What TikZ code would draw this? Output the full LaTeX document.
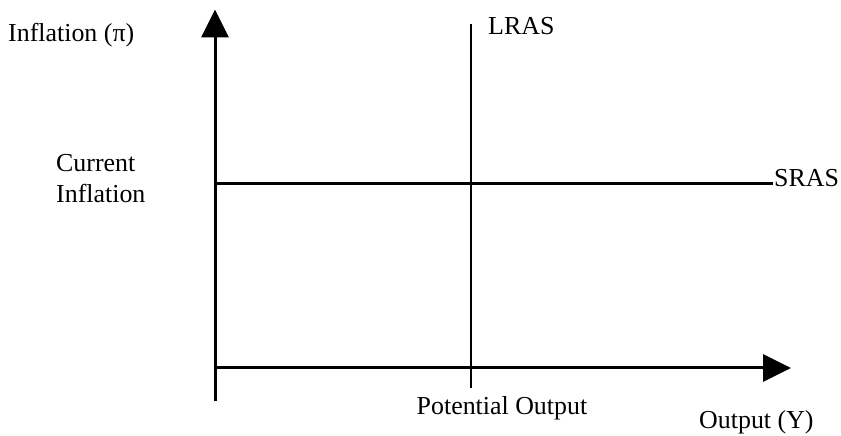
\documentclass[tikz,border=0pt]{standalone}
\usepackage{fontspec}
\setmainfont{Liberation Serif}
\usetikzlibrary{arrows.meta}
\begin{document}
\begin{tikzpicture}[x=1bp,y=-1bp,
  axis/.style={line width=3bp,-{Triangle[length=28bp,width=27bp]}},
  curve/.style={line width=2.2bp},
  lbl/.style={anchor=base west,inner sep=0pt,font=\fontsize{26}{30}\selectfont}]
\useasboundingbox (0,0) rectangle (841,436);
% axes
\coordinate (o) at (215,368);
\coordinate (ybot) at (215,401);
\coordinate (ytop) at (215,9.5);
\coordinate (xend) at (791,368);
\draw[axis] (ybot) -- (ytop);
\draw[axis] (o) -- (xend);
% curves
\coordinate (lrastop) at (471,24);
\coordinate (lrasbot) at (471,388);
\coordinate (srasl) at (215,183.5);
\coordinate (srasr) at (773,183.5);
\draw[curve] (lrastop) -- (lrasbot);
\draw[curve] (srasl) -- (srasr);
% labels
\node[lbl] (ylab) at (8,42) {Inflation (π)};
\node[lbl] (lras) at (488,35) {LRAS};
\node[lbl] (cur1) at (56,172) {Current};
\node[lbl] (cur2) at (56,202.7) {Inflation};
\node[lbl] (sras) at (774,187) {SRAS};
\node[lbl] (pot) at (416.5,414) {Potential Output};
\node[lbl] (xlab) at (699,428.3) {Output (Y)};
\end{tikzpicture}
\end{document}
